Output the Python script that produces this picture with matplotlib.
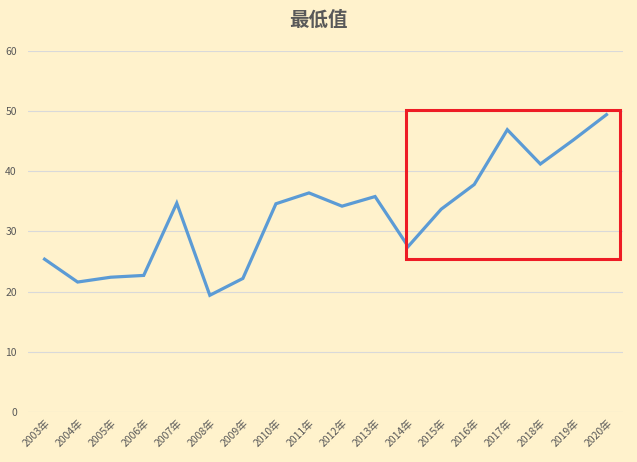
import matplotlib
matplotlib.use("Agg")
from matplotlib import pyplot as plt
from matplotlib.patches import Rectangle

plt.rcParams['font.family'] = ['Noto Sans CJK SC', 'DejaVu Sans']

years = ['2003年', '2004年', '2005年', '2006年', '2007年', '2008年', '2009年', '2010年', '2011年',
         '2012年', '2013年', '2014年', '2015年', '2016年', '2017年', '2018年', '2019年', '2020年']
lowest = [25.4, 21.6, 22.4, 22.7, 34.7, 19.4, 22.2, 34.6, 36.4,
          34.2, 35.8, 27.5, 33.7, 37.8, 46.9, 41.2, 45.2, 49.4]

# highlighted area (red box), category index / value
box_x = (10.95, 17.4)
box_y = (25.4, 50.1)

bg = '#FFF2CC'
fig = plt.figure(figsize=(6.37, 4.62), dpi=100, facecolor=bg)
ax = fig.add_axes([0.044, 0.108, 0.934, 0.782], facecolor=bg)

x = range(len(years))
ax.plot(x, lowest, color='#5B9BD5', lw=2.3, solid_joinstyle='miter', zorder=3)

ax.set_xlim(-0.5, len(years) - 0.5)
ax.set_ylim(0, 60)
ax.set_yticks(range(0, 61, 10))
ax.grid(axis='y', color='#D9D9D9', lw=0.8)
ax.set_axisbelow(True)
for s in ax.spines.values():
    s.set_visible(False)
ax.tick_params(length=0, colors='#595959', labelsize=7.5)
ax.tick_params(axis='y', pad=8)
ax.set_xticks(list(x))
ax.set_xticklabels(years, rotation=45, ha='right', rotation_mode='anchor')
ax.tick_params(axis='x', pad=4)

rect = Rectangle((box_x[0], box_y[0]), box_x[1] - box_x[0], box_y[1] - box_y[0],
                 fill=False, edgecolor='#EE1C25', lw=2.2, clip_on=False, zorder=4)
ax.add_patch(rect)

fig.text(0.5, 0.957, '最低值', ha='center', va='center', fontsize=14,
         fontweight='bold', color='#595959')

fig.savefig('out.png', dpi=100, facecolor=bg)
